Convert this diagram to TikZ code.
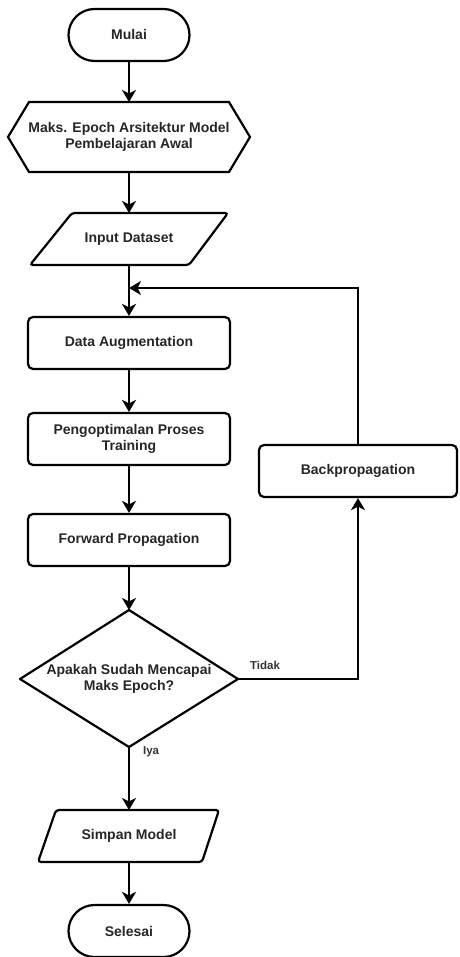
\documentclass[tikz,border=0pt]{standalone}
\usepackage{fontspec}
\setmainfont{Liberation Sans}
\usetikzlibrary{arrows.meta}
\begin{document}
\begin{tikzpicture}[x=1pt,y=-1pt,
  line width=2.2pt,
  txt/.style={font=\bfseries\fontsize{14}{16}\selectfont, align=center, inner sep=0pt, text=black!85},
  lbl/.style={font=\bfseries\fontsize{11.5}{13}\selectfont, inner sep=0pt, text=black!80},
  term/.style={txt, draw=black, rounded corners=26pt, minimum width=121pt, minimum height=52pt},
  proc/.style={txt, draw=black, rounded corners=5pt, minimum width=202pt, minimum height=52pt},
  arr/.style={-{Stealth[length=12pt,width=14pt,inset=3.5pt]}, line width=2.2pt}
]
\useasboundingbox (0,0) rectangle (459,957);

\node[term] (mulai) at (129,35) {Mulai};

\node[txt] (hex) at (129,137) {Maks. Epoch Arsitektur Model\\Pembelajaran Awal};
\draw[line join=miter] (8,137) coordinate (hw) -- (29,102) -- (229,102) -- (250,137) coordinate (he)
  -- (229,172) -- (29,172) -- cycle;
\coordinate (hn) at (129,102);
\coordinate (hs) at (129,172);

\node[txt] (inp) at (129,239) {Input Dataset};
\draw[rounded corners=3pt] (72,213) -- (228,213) -- (189,265) -- (30,265) -- cycle;
\coordinate (inpn) at (129,213);
\coordinate (inps) at (129,265);

\node[proc] (aug) at (129,343) {Data Augmentation};
\node[proc] (opt) at (129,439) {Pengoptimalan Proses\\Training};
\node[proc] (fwd) at (129,540) {Forward Propagation};
\node[proc, minimum width=198pt] (back) at (358,471) {Backpropagation};

\node[txt] (dec) at (129,679) {Apakah Sudah Mencapai\\Maks Epoch?};
\draw[line join=round] (129,610) coordinate (dn) -- (238,679) coordinate (de)
  -- (129,747) coordinate (ds) -- (20,679) -- cycle;

\node[txt] (simp) at (129,836) {Simpan Model};
\draw[rounded corners=3pt] (56,810) -- (219,810) -- (202,862) -- (38,862) -- cycle;
\coordinate (simpn) at (129,810);
\coordinate (simps) at (129,862);

\node[term] (sel) at (129,931) {Selesai};

\coordinate (loopin) at (129,288);
\coordinate (loopc) at (358,288);
\coordinate (noc) at (358,679);

\draw[arr] (mulai) -- (hn);
\draw[arr] (hs) -- (inpn);
\draw[arr] (inps) -- (aug);
\draw[arr] (aug) -- (opt);
\draw[arr] (opt) -- (fwd);
\draw[arr] (fwd) -- (dn);
\draw[arr] (ds) -- (simpn);
\draw[arr] (simps) -- (sel);
\draw[arr] (de) -- (noc) -- (back);
\draw[arr] (back) -- (loopc) -- (loopin);

\node[lbl, anchor=west] (tidak) at (249,665) {Tidak};
\node[lbl, anchor=west] (iya) at (142,752) {Iya};
\end{tikzpicture}
\end{document}
